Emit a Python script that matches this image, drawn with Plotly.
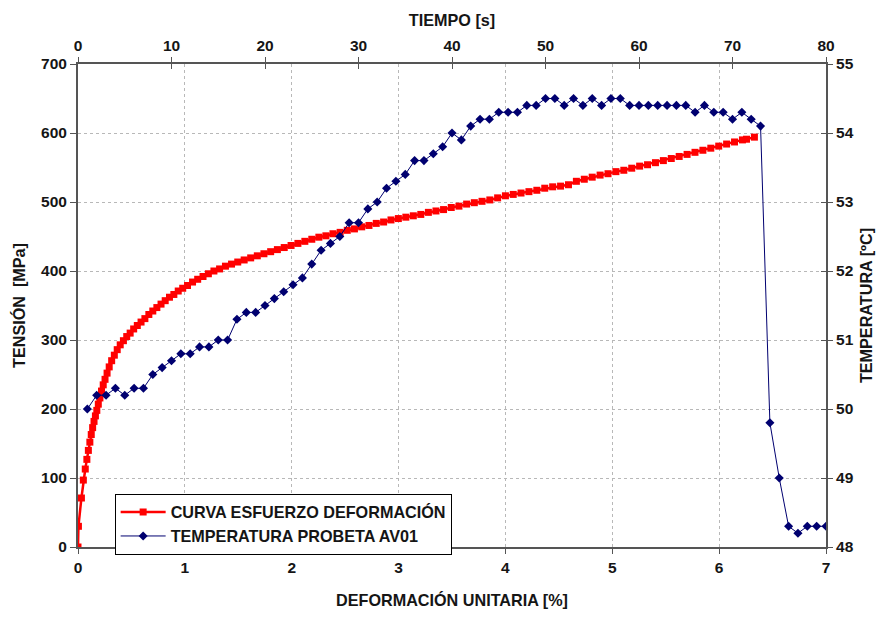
import plotly.graph_objects as go

# --- Stress-strain curve (bottom / left axes) ---
deformacion = [
    0.000, 0.004, 0.032, 0.050, 0.068, 0.083, 0.097, 0.111, 0.124, 0.137,
    0.150, 0.163, 0.176, 0.190, 0.205, 0.220, 0.236, 0.253, 0.272, 0.292,
    0.315, 0.340, 0.367, 0.395, 0.425, 0.456, 0.488, 0.521, 0.555, 0.590,
    0.626, 0.663, 0.700, 0.738, 0.777, 0.816, 0.856, 0.897, 0.938, 0.980,
    1.025, 1.072, 1.120, 1.170, 1.220, 1.272, 1.325, 1.380, 1.437, 1.495,
    1.555, 1.616, 1.678, 1.740, 1.803, 1.866, 1.930, 1.994, 2.058, 2.123,
    2.188, 2.254, 2.320, 2.386, 2.453, 2.520, 2.587, 2.655, 2.723, 2.791,
    2.860, 2.929, 2.998, 3.068, 3.138, 3.208, 3.279, 3.350, 3.421, 3.493,
    3.565, 3.637, 3.709, 3.781, 3.854, 3.927, 4.000, 4.073, 4.146, 4.220,
    4.294, 4.368, 4.442, 4.516, 4.590, 4.664, 4.738, 4.812, 4.886, 4.960,
    5.034, 5.108, 5.182, 5.256, 5.330, 5.404, 5.478, 5.552, 5.626, 5.700,
    5.774, 5.848, 5.922, 5.996, 6.070, 6.144, 6.218, 6.256, 6.330,
]
tension = [
    0, 30, 71, 97, 113, 127, 140, 152, 163, 173,
    182, 190, 198, 207, 216, 226, 235, 243, 252, 261,
    270, 278, 286, 293, 299, 305, 310, 316, 321, 326,
    331, 337, 342, 347, 352, 357, 362, 366, 371, 375,
    379, 384, 388, 392, 396, 400, 403, 407, 410, 413,
    416, 419, 422, 425, 428, 431, 434, 437, 440, 443,
    446, 449, 451, 454, 456, 459, 461, 464, 466, 469,
    471, 474, 476, 478, 480, 482, 485, 487, 489, 492,
    494, 497, 499, 501, 503, 506, 509, 511, 513, 515,
    517, 520, 522, 523, 525, 530, 533, 536, 539, 541,
    544, 546, 549, 552, 554, 557, 560, 563, 566, 569,
    572, 575, 578, 581, 584, 587, 590, 591, 594,
]

# --- Specimen temperature (top / right axes) ---
tiempo = [
    1, 2, 3, 4, 5, 6, 7, 8, 9, 10,
    11, 12, 13, 14, 15, 16, 17, 18, 19, 20,
    21, 22, 23, 24, 25, 26, 27, 28, 29, 30,
    31, 32, 33, 34, 35, 36, 37, 38, 39, 40,
    41, 42, 43, 44, 45, 46, 47, 48, 49, 50,
    51, 52, 53, 54, 55, 56, 57, 58, 59, 60,
    61, 62, 63, 64, 65, 66, 67, 68, 69, 70,
    71, 72, 73, 74, 75, 76, 77, 78, 79, 80,
]
temperatura = [
    50.0, 50.2, 50.2, 50.3, 50.2, 50.3, 50.3, 50.5, 50.6, 50.7,
    50.8, 50.8, 50.9, 50.9, 51.0, 51.0, 51.3, 51.4, 51.4, 51.5,
    51.6, 51.7, 51.8, 51.9, 52.1, 52.3, 52.4, 52.5, 52.7, 52.7,
    52.9, 53.0, 53.2, 53.3, 53.4, 53.6, 53.6, 53.7, 53.8, 54.0,
    53.9, 54.1, 54.2, 54.2, 54.3, 54.3, 54.3, 54.4, 54.4, 54.5,
    54.5, 54.4, 54.5, 54.4, 54.5, 54.4, 54.5, 54.5, 54.4, 54.4,
    54.4, 54.4, 54.4, 54.4, 54.4, 54.3, 54.4, 54.3, 54.3, 54.2,
    54.3, 54.2, 54.1, 49.8, 49.0, 48.3, 48.2, 48.3, 48.3, 48.3,
]

# Axis tick values
ticks_deformacion = [0, 1, 2, 3, 4, 5, 6, 7]
ticks_tension = [0, 100, 200, 300, 400, 500, 600, 700]
ticks_tiempo = [0, 10, 20, 30, 40, 50, 60, 70, 80]
ticks_temperatura = [48, 49, 50, 51, 52, 53, 54, 55]

FONT = "Liberation Sans, Arial, sans-serif"
TXT = "#151515"
AXIS = "#555555"
GRID = "#b8b8b8"

fig = go.Figure()

fig.add_trace(go.Scatter(
    x=deformacion, y=tension,
    name="CURVA ESFUERZO DEFORMACIÓN",
    mode="lines+markers",
    line=dict(color="#ff0000", width=2.5),
    marker=dict(symbol="square", size=7, color="#ff0000"),
    xaxis="x", yaxis="y",
))

fig.add_trace(go.Scatter(
    x=tiempo, y=temperatura,
    name="TEMPERATURA PROBETA AV01",
    mode="lines+markers",
    line=dict(color="#000070", width=1),
    marker=dict(symbol="diamond", size=7, color="#000070"),
    xaxis="x2", yaxis="y2",
))

tickfont = dict(family=FONT, size=15.5, color=TXT, weight="bold")
titlefont = dict(family=FONT, size=16.2, color=TXT, weight="bold")

fig.update_layout(
    width=885, height=619,
    margin=dict(l=78, r=58, t=64, b=68),
    paper_bgcolor="white",
    plot_bgcolor="white",
    font=dict(family=FONT, color=TXT),
    showlegend=True,
    legend=dict(
        x=0.049, y=0.11, xanchor="left", yanchor="top",
        bgcolor="white", bordercolor="#000000", borderwidth=1,
        font=dict(family=FONT, size=16.2, color=TXT, weight="bold"),
        itemwidth=45, tracegroupgap=0,
    ),
    xaxis=dict(
        range=[0, 7], tickvals=ticks_deformacion,
        showgrid=True, gridcolor=GRID, griddash="3px,3px", gridwidth=1,
        zeroline=False,
        showline=True, linecolor=AXIS, linewidth=2,
        ticks="outside", ticklen=5, tickcolor=AXIS, tickwidth=1,
        tickfont=tickfont,
        title=dict(text="DEFORMACIÓN UNITARIA [%]", font=titlefont, standoff=20),
    ),
    yaxis=dict(
        range=[0, 700], tickvals=ticks_tension,
        showgrid=True, gridcolor=GRID, griddash="3px,3px", gridwidth=1,
        zeroline=False,
        showline=True, linecolor=AXIS, linewidth=2,
        ticks="outside", ticklen=6, tickcolor=AXIS, tickwidth=1,
        tickfont=tickfont,
        title=dict(text="TENSIÓN\u00a0 [MPa]", font=titlefont, standoff=11),
    ),
    xaxis2=dict(
        range=[0, 80], tickvals=ticks_tiempo,
        overlaying="x", side="top", anchor="y",
        showgrid=False, zeroline=False,
        showline=True, linecolor=AXIS, linewidth=2,
        ticks="outside", ticklen=5, tickcolor=AXIS, tickwidth=1,
        tickfont=tickfont,
        title=dict(text="TIEMPO [s]", font=titlefont, standoff=6),
    ),
    yaxis2=dict(
        range=[48, 55], tickvals=ticks_temperatura,
        overlaying="y", side="right", anchor="x",
        showgrid=False, zeroline=False,
        showline=True, linecolor=AXIS, linewidth=2,
        ticks="outside", ticklen=5, tickcolor=AXIS, tickwidth=1,
        tickfont=tickfont,
        title=dict(text="TEMPERATURA [ºC]", font=titlefont, standoff=8),
    ),
    # inner halves of the crossing tick marks on the top and right axes
    xaxis3=dict(
        range=[0, 80], tickvals=ticks_tiempo,
        overlaying="x", side="top", anchor="y",
        showgrid=False, zeroline=False, showline=False,
        ticks="inside", ticklen=5, tickcolor=AXIS, tickwidth=1,
        showticklabels=False,
    ),
    yaxis3=dict(
        range=[48, 55], tickvals=ticks_temperatura,
        overlaying="y", side="right", anchor="x",
        showgrid=False, zeroline=False, showline=False,
        ticks="inside", ticklen=5, tickcolor=AXIS, tickwidth=1,
        showticklabels=False,
    ),
)

# empty trace so the auxiliary tick axes are rendered
fig.add_trace(go.Scatter(x=[None], y=[None], xaxis="x3", yaxis="y3",
                         showlegend=False, hoverinfo="skip"))

fig.write_html("out.html")
